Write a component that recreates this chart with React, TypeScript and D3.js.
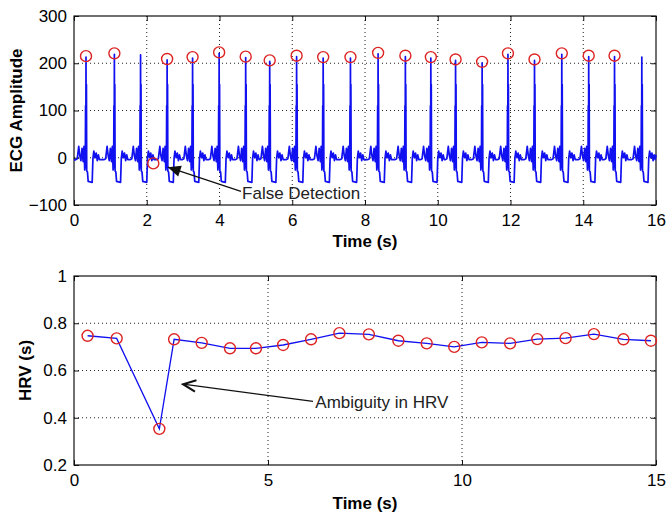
import React, { useEffect, useRef } from 'react';
import * as d3 from 'd3';

// ECG R-peak times (s) and amplitudes
const beatTimes = [0.33, 1.11, 1.83, 2.56, 3.26, 3.99, 4.72, 5.38, 6.12, 6.85, 7.6, 8.36, 9.11, 9.81, 10.49, 11.22, 11.93, 12.66, 13.41, 14.15, 14.86, 15.61];
const beatAmps = [213, 219, 218, 207, 211, 221, 212, 204, 214, 211, 211, 220, 214, 211, 206, 201, 219, 206, 219, 214, 214, 213];

// one beat shape around the R peak (offset in s, amplitude); null = the R peak itself
const beatOffsets = [-0.28, -0.24, -0.2, -0.17, -0.14, -0.11, -0.08, -0.055, -0.035, -0.02, -0.012, -0.006, 0, 0.006, 0.012, 0.02, 0.04, 0.06, 0.17, 0.19, 0.215, 0.25, 0.28, 0.31, 0.34, 0.37];
const beatValues = [-4, -2, 24, 4, -6, 20, -8, 24, -26, -15, 110, -12, null, -15, 155, -28, -30, -50, -52, -2, 14, 0, 10, -6, 6, -4];

const ecgStart = [0, -5];
const ecgEnd = [16, 6];

// detections marked with circles (includes the false one)
const detectTimes = [0.33, 1.11, 2.18, 2.56, 3.26, 3.99, 4.72, 5.38, 6.12, 6.85, 7.6, 8.36, 9.11, 9.81, 10.49, 11.22, 11.93, 12.66, 13.41, 14.15, 14.86];
const detectAmps = [215, 221, -12, 209, 213, 223, 214, 206, 216, 213, 213, 222, 216, 213, 208, 203, 221, 208, 221, 216, 216];

// HRV panel
const hrvTimes = [0.35, 1.1, 2.2, 2.58, 3.29, 4.02, 4.69, 5.39, 6.11, 6.84, 7.6, 8.36, 9.09, 9.8, 10.51, 11.24, 11.94, 12.67, 13.4, 14.16, 14.87];
const hrvValues = [0.747, 0.736, 0.353, 0.732, 0.717, 0.694, 0.694, 0.708, 0.732, 0.758, 0.753, 0.726, 0.715, 0.7, 0.719, 0.715, 0.733, 0.737, 0.754, 0.732, 0.726];

const ecgXTicks = [0, 2, 4, 6, 8, 10, 12, 14, 16];
const ecgYTicks = [-100, 0, 100, 200, 300];
const hrvXTicks = [0, 5, 10, 15];
const hrvYTicks = [0.2, 0.4, 0.6, 0.8, 1];

const FONT = 'Liberation Sans, Arial, sans-serif';
const BLUE = '#1010f0';
const RED = '#dd2222';

const App = () => {
  const svgRef = useRef(null);

  useEffect(() => {
    const svg = d3.select(svgRef.current);
    svg.selectAll('*').remove();

    const left = 74, right = 656;

    const panel = (x, y, xTicks, yTicks, yFmt, xLabel, yLabel, yLabelX, xLabelY) => {
      const [y0, y1] = y.range();
      const g = svg.append('g');
      // dotted grid at the inner ticks
      g.selectAll('.gx').data(xTicks.slice(1, -1)).join('line')
        .attr('x1', d => x(d)).attr('x2', d => x(d))
        .attr('y1', y1).attr('y2', y0)
        .attr('stroke', '#222').attr('stroke-dasharray', '1,3').attr('stroke-width', 1);
      g.selectAll('.gy').data(yTicks.slice(1, -1)).join('line')
        .attr('x1', left).attr('x2', right)
        .attr('y1', d => y(d)).attr('y2', d => y(d))
        .attr('stroke', '#222').attr('stroke-dasharray', '1,3').attr('stroke-width', 1);

      // inward ticks on all four sides
      const tk = (sel) => sel.call(s => s.select('.domain').remove())
        .call(s => s.selectAll('line').attr('stroke', '#111'));
      g.append('g').attr('transform', `translate(0,${y0})`)
        .call(d3.axisBottom(x).tickValues(xTicks).tickSize(-5).tickPadding(9).tickFormat(d3.format('d')))
        .call(tk)
        .call(s => s.selectAll('text').attr('font-size', 17).attr('font-family', FONT).attr('fill', '#000'));
      g.append('g').attr('transform', `translate(0,${y1})`)
        .call(d3.axisTop(x).tickValues(xTicks).tickSize(-5).tickFormat(() => ''))
        .call(tk);
      g.append('g').attr('transform', `translate(${left},0)`)
        .call(d3.axisLeft(y).tickValues(yTicks).tickSize(-5).tickPadding(7).tickFormat(yFmt))
        .call(tk)
        .call(s => s.selectAll('text').attr('font-size', 17).attr('font-family', FONT).attr('fill', '#000'));
      g.append('g').attr('transform', `translate(${right},0)`)
        .call(d3.axisRight(y).tickValues(yTicks).tickSize(-5).tickFormat(() => ''))
        .call(tk);

      g.append('rect')
        .attr('x', left).attr('y', y1).attr('width', right - left).attr('height', y0 - y1)
        .attr('fill', 'none').attr('stroke', '#111').attr('stroke-width', 1.2);

      g.append('text')
        .attr('x', (left + right) / 2).attr('y', xLabelY)
        .attr('text-anchor', 'middle').attr('font-family', FONT)
        .attr('font-size', 17).attr('font-weight', 'bold')
        .text(xLabel);
      g.append('text')
        .attr('transform', `translate(${yLabelX},${(y0 + y1) / 2}) rotate(-90)`)
        .attr('text-anchor', 'middle').attr('font-family', FONT)
        .attr('font-size', 17).attr('font-weight', 'bold')
        .text(yLabel);
      return g;
    };

    const arrowHead = (g, tip, tail, filled) => {
      const ang = Math.atan2(tail[1] - tip[1], tail[0] - tip[0]);
      const len = 14, half = 0.42;
      const p1 = [tip[0] + len * Math.cos(ang - half), tip[1] + len * Math.sin(ang - half)];
      const p2 = [tip[0] + len * Math.cos(ang + half), tip[1] + len * Math.sin(ang + half)];
      g.append('line')
        .attr('x1', tail[0]).attr('y1', tail[1]).attr('x2', tip[0]).attr('y2', tip[1])
        .attr('stroke', '#111').attr('stroke-width', 1.3);
      if (filled) {
        g.append('path').attr('d', `M${tip[0]},${tip[1]}L${p1[0]},${p1[1]}L${p2[0]},${p2[1]}Z`).attr('fill', '#111');
      } else {
        g.append('path').attr('d', `M${p1[0]},${p1[1]}L${tip[0]},${tip[1]}L${p2[0]},${p2[1]}`)
          .attr('fill', 'none').attr('stroke', '#111').attr('stroke-width', 2);
      }
    };

    // ---- top: ECG ----
    const x1 = d3.scaleLinear().domain([0, 16]).range([left, right]);
    const y1 = d3.scaleLinear().domain([-100, 300]).range([205, 16]);
    const top = panel(x1, y1, ecgXTicks, ecgYTicks, d3.format('d'), 'Time (s)', 'ECG Amplitude', 22, 247);

    const ecg = [ecgStart];
    beatTimes.forEach((t, i) => {
      beatOffsets.forEach((o, j) => {
        ecg.push([t + o, beatValues[j] === null ? beatAmps[i] : beatValues[j]]);
      });
    });
    ecg.push(ecgEnd);
    const pts = ecg.filter(d => d[0] >= 0 && d[0] <= 16);

    top.append('path')
      .datum(pts)
      .attr('fill', 'none').attr('stroke', BLUE).attr('stroke-width', 1.7)
      .attr('stroke-linejoin', 'round')
      .attr('d', d3.line().x(d => x1(d[0])).y(d => y1(d[1])));

    top.selectAll('.det').data(detectTimes).join('circle')
      .attr('cx', d => x1(d)).attr('cy', (d, i) => y1(detectAmps[i])).attr('r', 5.5)
      .attr('fill', 'none').attr('stroke', RED).attr('stroke-width', 1.4);

    arrowHead(top, [x1(2.58), y1(-20)], [x1(4.59), y1(-71)], true);
    top.append('text')
      .attr('x', x1(4.62)).attr('y', y1(-71) + 8)
      .attr('font-family', FONT).attr('font-size', 17).attr('fill', '#222')
      .text('False Detection');

    // ---- bottom: HRV ----
    const x2 = d3.scaleLinear().domain([0, 15]).range([left, right]);
    const y2 = d3.scaleLinear().domain([0.2, 1]).range([465, 276]);
    const bot = panel(x2, y2, hrvXTicks, hrvYTicks, d => String(+d.toFixed(1)), 'Time (s)', 'HRV (s)', 31, 509);

    bot.append('path')
      .datum(hrvTimes.map((t, i) => [t, hrvValues[i]]))
      .attr('fill', 'none').attr('stroke', BLUE).attr('stroke-width', 1.3)
      .attr('d', d3.line().x(d => x2(d[0])).y(d => y2(d[1])));

    bot.selectAll('.hrv').data(hrvTimes).join('circle')
      .attr('cx', d => x2(d)).attr('cy', (d, i) => y2(hrvValues[i])).attr('r', 5.5)
      .attr('fill', 'none').attr('stroke', RED).attr('stroke-width', 1.4);

    arrowHead(bot, [x2(2.81), y2(0.542)], [x2(6.16), y2(0.469)], false);
    bot.append('text')
      .attr('x', x2(6.22)).attr('y', y2(0.469) + 7)
      .attr('font-family', FONT).attr('font-size', 17).attr('fill', '#222')
      .text('Ambiguity in HRV');
  }, []);

  return <svg ref={svgRef} width={667} height={515} style={{ position: 'absolute', left: 0, top: 0, background: '#fff' }}></svg>;
};

export default App;
